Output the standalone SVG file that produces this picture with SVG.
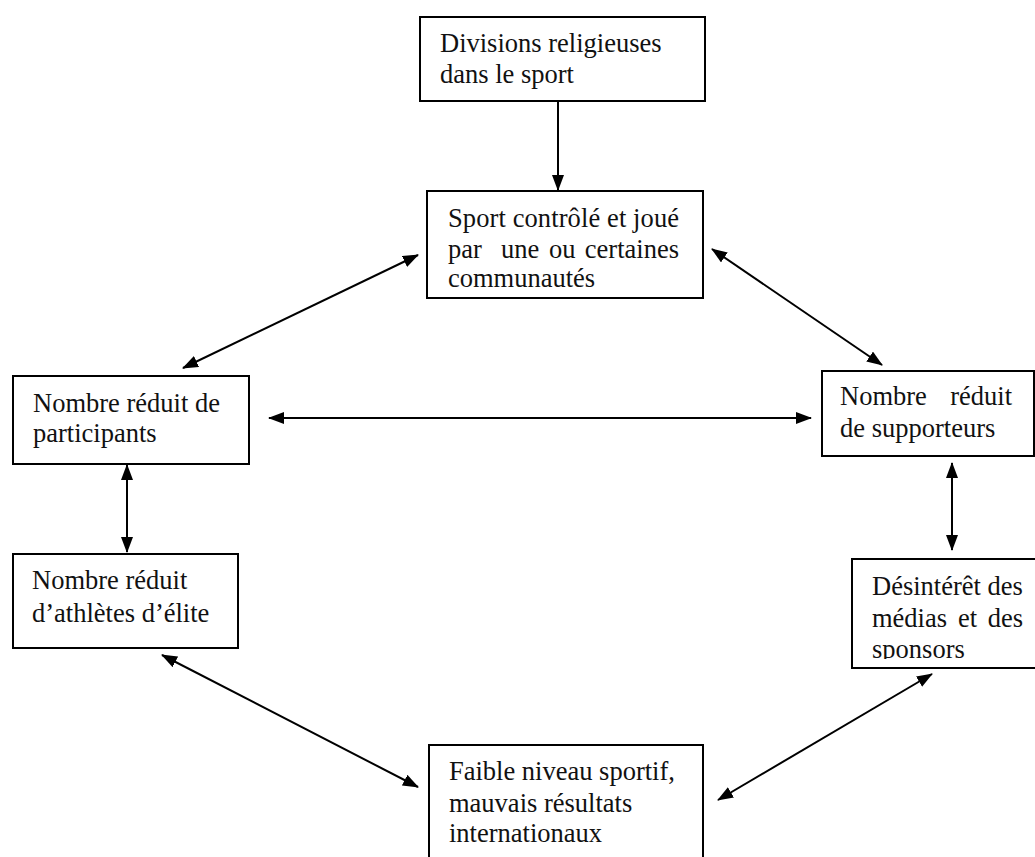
<svg xmlns="http://www.w3.org/2000/svg" width="1035" height="857" viewBox="0 0 1035 857">
  <style>
    .box { fill: #ffffff; stroke: #000000; stroke-width: 2; }
    .t { font-family: "Liberation Serif", "Times New Roman", serif; font-size: 26.5px; fill: #111111; }
    .c { stroke: #000000; stroke-width: 2; fill: none; }
  </style>
  <defs>
    <marker id="ah" viewBox="0 0 16 12" refX="15" refY="6" markerWidth="16" markerHeight="12" markerUnits="userSpaceOnUse" orient="auto-start-reverse">
      <path d="M0,0 L16,6 L0,12 z" fill="#000000"/>
    </marker>
    <clipPath id="clip6">
      <rect x="852" y="559" width="190" height="100"/>
    </clipPath>
  </defs>
  <rect width="1035" height="857" fill="#ffffff"/>

  <g id="connectors">
    <line class="c" x1="558" y1="101" x2="558" y2="190" marker-end="url(#ah)"/>
    <line class="c" x1="418" y1="255" x2="183" y2="368" marker-start="url(#ah)" marker-end="url(#ah)"/>
    <line class="c" x1="712" y1="249" x2="882" y2="365" marker-start="url(#ah)" marker-end="url(#ah)"/>
    <line class="c" x1="269" y1="418" x2="811" y2="418" marker-start="url(#ah)" marker-end="url(#ah)"/>
    <line class="c" x1="127" y1="465" x2="127" y2="552" marker-start="url(#ah)" marker-end="url(#ah)"/>
    <line class="c" x1="952" y1="463" x2="952" y2="550" marker-start="url(#ah)" marker-end="url(#ah)"/>
    <line class="c" x1="162" y1="655" x2="418" y2="787" marker-start="url(#ah)" marker-end="url(#ah)"/>
    <line class="c" x1="932" y1="674" x2="718" y2="800" marker-start="url(#ah)" marker-end="url(#ah)"/>
  </g>

  <g id="n-divisions">
    <rect class="box" x="420" y="17" width="285" height="84"/>
    <text class="t" x="440" y="52">Divisions religieuses</text>
    <text class="t" x="440" y="83">dans le sport</text>
  </g>

  <g id="n-sport">
    <rect class="box" x="427" y="191" width="276" height="107"/>
    <text class="t" x="448" y="227" textLength="231">Sport contrôlé et joué</text>
    <text class="t" y="258"><tspan x="448">par</tspan><tspan x="501">une</tspan><tspan x="549">ou</tspan><tspan x="679" text-anchor="end">certaines</tspan></text>
    <text class="t" x="448" y="287">communautés</text>
  </g>

  <g id="n-participants">
    <rect class="box" x="13" y="376" width="236" height="88"/>
    <text class="t" x="33" y="412">Nombre réduit de</text>
    <text class="t" x="33" y="442">participants</text>
  </g>

  <g id="n-supporteurs">
    <rect class="box" x="822" y="371" width="212" height="85"/>
    <text class="t" y="405"><tspan x="840">Nombre</tspan><tspan x="1012" text-anchor="end">réduit</tspan></text>
    <text class="t" x="840" y="437">de supporteurs</text>
  </g>

  <g id="n-athletes">
    <rect class="box" x="13" y="554" width="225" height="94"/>
    <text class="t" x="32" y="589">Nombre réduit</text>
    <text class="t" x="32" y="622">d’athlètes d’élite</text>
  </g>

  <g id="n-medias">
    <rect class="box" x="852" y="559" width="190" height="109"/>
    <g clip-path="url(#clip6)">
      <text class="t" x="872" y="595">Désintérêt des</text>
      <text class="t" y="627"><tspan x="872">médias</tspan><tspan x="958">et</tspan><tspan x="1023" text-anchor="end">des</tspan></text>
      <text class="t" x="872" y="658">sponsors</text>
    </g>
  </g>

  <g id="n-faible">
    <rect class="box" x="429" y="745" width="274" height="130"/>
    <text class="t" x="449" y="780">Faible niveau sportif,</text>
    <text class="t" x="449" y="812">mauvais résultats</text>
    <text class="t" x="449" y="842">internationaux</text>
  </g>
</svg>
